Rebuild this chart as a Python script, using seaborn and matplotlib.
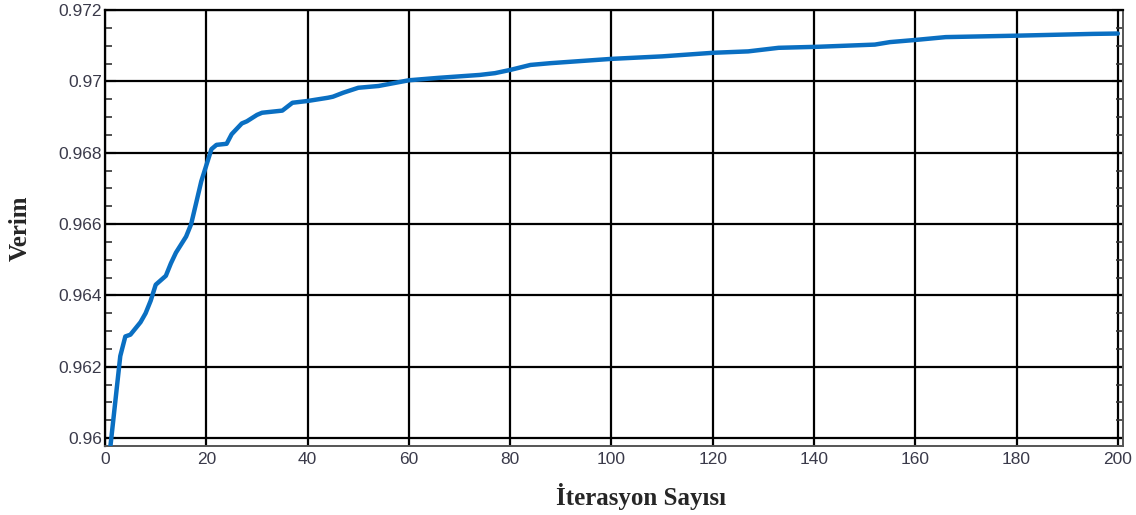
import numpy as np
import pandas as pd
import matplotlib
matplotlib.use("Agg")
import matplotlib.pyplot as plt
import seaborn as sns
from matplotlib.ticker import MultipleLocator

# Iteration number and efficiency values
iterasyon = [1, 2, 3, 4, 5, 7, 8, 9, 10, 12, 13, 14, 16, 17, 18, 19, 20, 21, 22,
             24, 25, 27, 28, 30, 31, 35, 37, 40, 44, 45, 47, 50, 54, 57, 60, 66,
             74, 77, 80, 84, 88, 100, 110, 120, 127, 133, 141, 152, 155, 160,
             166, 180, 195, 200]
verim = [0.9597, 0.9610, 0.9623, 0.96285, 0.9629, 0.96325, 0.9635, 0.96385,
         0.9643, 0.96455, 0.9649, 0.9652, 0.96565, 0.9660, 0.9666, 0.9672,
         0.96765, 0.9681, 0.96822, 0.96825, 0.96852, 0.96882, 0.96888, 0.96906,
         0.96912, 0.96918, 0.9694, 0.96945, 0.96954, 0.96957, 0.96968, 0.96982,
         0.96987, 0.96995, 0.97003, 0.9701, 0.97018, 0.97023, 0.97032, 0.97046,
         0.97051, 0.97063, 0.9707, 0.9708, 0.97084, 0.97094, 0.97097, 0.97103,
         0.9711, 0.97116, 0.97124, 0.97128, 0.97133, 0.97134]

x_ticks = [0, 20, 40, 60, 80, 100, 120, 140, 160, 180, 200]
y_ticks = [0.96, 0.962, 0.964, 0.966, 0.968, 0.97, 0.972]
y_tick_labels = ["0.96", "0.962", "0.964", "0.966", "0.968", "0.97", "0.972"]

df = pd.DataFrame({"iterasyon": iterasyon, "verim": verim})

sns.set_style("white")
plt.rcParams["font.family"] = ["Liberation Sans", "DejaVu Sans"]

fig = plt.figure(figsize=(11.36, 5.15), dpi=100)
ax = fig.add_axes([0.0925, 0.134, 0.896, 0.8466])

sns.lineplot(data=df, x="iterasyon", y="verim", ax=ax, color="#0a6fc2",
             linewidth=3.2, zorder=3)

ax.set_xlim(0, 201)
ax.set_ylim(0.95978, 0.972)
ax.set_xticks(x_ticks)
ax.set_yticks(y_ticks)
ax.set_yticklabels(y_tick_labels)
ax.yaxis.set_minor_locator(MultipleLocator(0.0005))

ax.grid(True, which="major", color="black", linewidth=1.6, zorder=1)
ax.set_axisbelow(True)

ax.tick_params(axis="both", which="major", labelsize=12.5, labelcolor="#3a3a4a",
               direction="in", length=8, width=1.5, color="black", pad=2)
ax.tick_params(axis="y", which="minor", direction="in", length=5, width=1.2,
               color="#333333", left=True, right=True)
ax.tick_params(axis="y", which="major", left=True, right=True)
ax.tick_params(axis="x", which="major", pad=4)

for side in ["left", "top"]:
    ax.spines[side].set_color("black")
    ax.spines[side].set_linewidth(1.6)
for side in ["right", "bottom"]:
    ax.spines[side].set_color("#555555")
    ax.spines[side].set_linewidth(1.4)

ax.set_xlabel("İterasyon Sayısı", fontsize=18, fontweight="bold",
              family=["Liberation Serif", "DejaVu Serif"])
ax.xaxis.set_label_coords(0.527, -0.085)
ax.set_ylabel("Verim", fontsize=18, fontweight="bold",
              family=["Liberation Serif", "DejaVu Serif"])
ax.yaxis.set_label_coords(-0.072, 0.5)

fig.savefig("out.png", dpi=100)
